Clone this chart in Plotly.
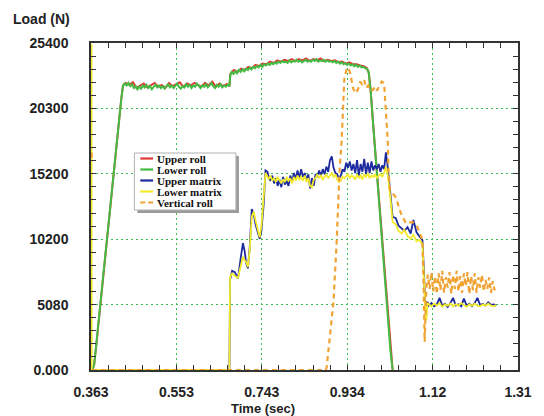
import plotly.graph_objects as go

# ---------------- data ----------------
x_tick_vals = [0.363, 0.5524, 0.7418, 0.9312, 1.1206, 1.31]
x_tick_text = ["0.363", "0.553", "0.743", "0.934", "1.12", "1.31"]
y_tick_vals = [0, 5080, 10160, 15240, 20320, 25400]
y_tick_text = ["0.000", "5080", "10200", "15200", "20300", "25400"]

series_names = ["Upper roll", "Lower roll", "Upper matrix", "Lower matrix", "Vertical roll"]

# Lower roll (green)
roll_t = [0.363, 0.367, 0.370, 0.375, 0.380, 0.385, 0.390, 0.395, 0.400, 0.405, 0.410,
          0.415, 0.420, 0.425, 0.430, 0.434,
          0.438, 0.442, 0.446, 0.450, 0.454, 0.458, 0.462, 0.466, 0.470, 0.474, 0.478,
          0.482, 0.486, 0.490, 0.494, 0.498, 0.502, 0.506, 0.510, 0.514, 0.518, 0.522,
          0.526, 0.530, 0.534, 0.538, 0.542, 0.546, 0.550, 0.554, 0.558, 0.562, 0.566,
          0.570, 0.574, 0.578, 0.582, 0.586, 0.590, 0.594, 0.598, 0.602, 0.606, 0.610,
          0.614, 0.618, 0.622, 0.626, 0.630, 0.634, 0.638, 0.642, 0.646, 0.650, 0.654,
          0.658, 0.662, 0.666, 0.670,
          0.672, 0.675,
          0.679, 0.683, 0.687, 0.691, 0.695, 0.699, 0.703, 0.707, 0.711, 0.715, 0.719,
          0.723, 0.727, 0.731, 0.735, 0.739, 0.743, 0.747, 0.751, 0.755, 0.759, 0.763,
          0.767, 0.771, 0.775, 0.779, 0.783, 0.787, 0.791, 0.795, 0.799, 0.803, 0.807,
          0.811, 0.815, 0.819, 0.823, 0.827, 0.831, 0.835, 0.839, 0.843, 0.847, 0.851,
          0.855, 0.859, 0.863, 0.867, 0.871, 0.875, 0.879, 0.883, 0.887, 0.891, 0.895,
          0.899, 0.903, 0.907, 0.911, 0.915, 0.919, 0.923, 0.927, 0.931, 0.935, 0.939,
          0.943, 0.947, 0.951, 0.955, 0.959, 0.963, 0.967, 0.971, 0.975,
          0.979, 0.983, 0.987, 0.992, 0.997, 1.002, 1.007, 1.012, 1.017, 1.022, 1.027, 1.032]
lower_roll = [0, 100, 400, 2000, 3800, 5600, 7300, 9000, 10800, 12500, 14200,
              15900, 17600, 19300, 21000, 22100,
              22250, 22100, 22300, 22050, 22200, 21900, 22050, 21800, 22000, 21850, 22100,
              21950, 22150, 21900, 22050, 21800, 22000, 22150, 21950, 22100, 21900, 22050,
              21850, 22000, 22200, 21950, 22100, 21900, 22050, 22250, 22000, 21850, 22050,
              21950, 22200, 22000, 22150, 21900, 22100, 22000, 22250, 22050, 21900, 22100,
              22000, 22200, 21950, 22100, 22300, 22050, 21900, 22150, 22000, 22200, 21950,
              22100, 22000, 22150, 22050,
              22900, 23150,
              23000, 23200, 23050, 23300, 23150, 23350, 23200, 23400, 23300, 23500, 23350,
              23550, 23450, 23600, 23500, 23700, 23550, 23750, 23650, 23800, 23700, 23850,
              23750, 23900, 23800, 23950, 23850, 24000, 23900, 23950, 23850, 24050, 23900,
              24000, 23950, 24100, 23950, 24050, 23900, 24000, 24100, 23950, 24050, 23950,
              24100, 24000, 24150, 23950, 24050, 24000, 24100, 23950, 24050, 23950, 24000,
              23900, 24000, 23850, 23950, 23800, 23900, 23750, 23850, 23700, 23800, 23650,
              23750, 23600, 23700, 23550, 23650, 23500, 23550, 23450, 23400,
              23100, 21800, 19900, 17600, 15200, 12900, 10600, 8300, 6000, 3700, 1500, 0]

# Upper roll (red)
upper_roll_t = [0.363, 0.367, 0.370, 0.375, 0.430, 0.434,
                0.440, 0.448, 0.456, 0.464, 0.472, 0.480, 0.488, 0.496, 0.504, 0.512,
                0.520, 0.528, 0.536, 0.544, 0.552, 0.560, 0.568, 0.576, 0.584, 0.592,
                0.600, 0.608, 0.616, 0.624, 0.632, 0.640, 0.648, 0.656, 0.664, 0.670,
                0.672, 0.680, 0.688, 0.696, 0.704, 0.712, 0.720, 0.728, 0.736, 0.744,
                0.752, 0.760, 0.768, 0.776, 0.784, 0.792, 0.800, 0.808, 0.816, 0.824,
                0.832, 0.840, 0.848, 0.856, 0.864, 0.872, 0.880, 0.888, 0.896, 0.904,
                0.912, 0.920, 0.928, 0.936, 0.944, 0.952, 0.960, 0.968, 0.975, 0.979,
                0.983, 0.987, 0.992, 1.032]
upper_roll = [0, 100, 400, 2000, 21000, 22100,
              22300, 22150, 22350, 21900, 22100, 22250, 21950, 22100, 22300, 22000,
              22150, 21900, 22300, 22050, 22200, 22350, 22000, 22250, 22100, 22300,
              22150, 22000, 22300, 22100, 22400, 22000, 22250, 22050, 22200, 22100,
              23000, 23300, 23150, 23400, 23300, 23550, 23450, 23700, 23600, 23800,
              23750, 23950, 23850, 24050, 23950, 24100, 24000, 24150, 24000, 24150,
              24050, 24200, 24000, 24150, 24050, 24200, 24000, 24100, 24000, 24050,
              23900, 23950, 23800, 23900, 23750, 23750, 23650, 23600, 23450, 23100,
              21800, 19900, 17600, 0]

# Upper matrix (blue) and lower matrix (yellow)
matrix_t = [0.3642, 0.3645, 0.670, 0.6714, 0.676, 0.682, 0.689, 0.695, 0.700, 0.704,
            0.707, 0.711, 0.715, 0.7195, 0.724, 0.728, 0.733, 0.737, 0.741, 0.746,
            0.750, 0.7545,
            0.757, 0.761, 0.765, 0.769, 0.773, 0.777, 0.781, 0.785, 0.789, 0.793,
            0.797, 0.801, 0.805, 0.809, 0.813, 0.817, 0.821, 0.825, 0.829, 0.833,
            0.837, 0.841, 0.845, 0.849, 0.853, 0.857, 0.861, 0.865, 0.869, 0.873,
            0.877, 0.881, 0.885, 0.889, 0.893, 0.897, 0.901, 0.905, 0.909, 0.913,
            0.917, 0.921, 0.925, 0.929, 0.933, 0.937, 0.941, 0.945, 0.949, 0.953,
            0.957, 0.961, 0.965, 0.969, 0.973, 0.977, 0.981, 0.985, 0.989, 0.993,
            0.997, 1.001, 1.005, 1.009, 1.013, 1.017, 1.021,
            1.028, 1.032, 1.039, 1.045, 1.052, 1.058, 1.065, 1.072, 1.078, 1.085,
            1.091, 1.098, 1.101, 1.104, 1.107, 1.109,
            1.112, 1.118, 1.124, 1.130, 1.136, 1.142, 1.148, 1.154, 1.160, 1.166,
            1.172, 1.178, 1.184, 1.190, 1.196, 1.202, 1.208, 1.214, 1.220, 1.226,
            1.232, 1.238, 1.244, 1.250, 1.256, 1.262]
upper_matrix = [0, 0, 0, 7000, 7700, 7600, 7100, 8700, 9850, 9200,
                8300, 7900, 9500, 12500, 12100, 11300, 10600, 10200, 10800, 12900,
                15500, 15400,
                15000, 14700, 15100, 14500, 14900, 14300, 14800, 14200, 15000, 14400,
                14700, 14300, 15100, 14600, 15300, 14800, 15500, 14900, 15600, 15000,
                15300, 14700, 15200, 14100, 14900, 14300, 15200, 15000, 15500, 15100,
                15600, 15200, 15800, 15400, 16300, 16600, 15700, 15300, 15200, 14900,
                15100, 15600, 15400, 16100, 15700, 16200, 15500, 16000, 15300, 16300,
                15100, 16000, 15400, 16400, 15200, 16100, 15300, 16200, 15500, 15900,
                15600, 16000, 15400, 15900, 15600, 16900, 15800,
                13500, 11900, 11800, 11200, 11000, 10800, 11100, 10600, 11650, 10700,
                10400, 10100, 8000, 5200, 5000, 5300,
                5000, 5200, 4950, 5100, 5600, 5000, 5150, 4900, 5200, 5600,
                5000, 5100, 4950, 5550, 5000, 5150, 4950, 5200, 5600, 5050,
                5150, 5000, 5250, 5050, 5100, 5000]
lower_matrix = [25300, 0, 0, 7250, 7500, 7300, 7150, 8200, 8800, 8500,
                8400, 8000, 9300, 11900, 12300, 11600, 10900, 10300, 11200, 13500,
                15300, 15000,
                14800, 15100, 14700, 14900, 14600, 15000, 14700, 14500, 14800, 14600,
                15000, 14700, 14900, 14500, 15000, 14700, 15100, 14800, 15000, 14700,
                15100, 14600, 14900, 14300, 14200, 14800, 14900, 15200, 14900, 15100,
                14800, 15000, 15200, 14900, 15100, 15300, 15000, 15200, 14800, 14600,
                14700, 15000, 14900, 15100, 15200, 14900, 15100, 15000, 14800, 15200,
                14900, 15100, 14800, 15200, 15000, 15300, 14900, 15100, 15000, 15200,
                14900, 15100, 15200, 15000, 15300, 15800, 15200,
                13000, 11500, 11300, 10800, 10600, 10900, 10400, 10200, 10500, 10000,
                10100, 9800, 7500, 5000, 3900, 5200,
                5100, 4950, 5150, 5000, 5200, 4900, 5100, 5000, 5150, 4950,
                5100, 5000, 5200, 5050, 4900, 5100, 5000, 5150, 5000, 4950,
                5100, 5000, 5150, 5000, 4950, 5050]

# Vertical roll (orange, dashed)
vertical_t = [0.3642, 0.3646, 0.3647, 0.3649, 0.884, 0.886, 0.892, 0.897, 0.901, 0.908,
              0.914, 0.919, 0.923, 0.925, 0.9295, 0.934, 0.938, 0.945, 0.951, 0.956,
              0.960, 0.964, 0.969, 0.973, 0.978, 0.982, 0.988, 0.993, 0.997, 1.004,
              1.008, 1.013, 1.017, 1.021, 1.023, 1.026, 1.039, 1.050, 1.061, 1.076,
              1.087, 1.098, 1.101, 1.103, 1.107,
              1.110, 1.114, 1.118, 1.122, 1.126, 1.130, 1.134, 1.138, 1.142, 1.146,
              1.150, 1.154, 1.158, 1.162, 1.166, 1.170, 1.174, 1.178, 1.182, 1.186,
              1.190, 1.194, 1.198, 1.202, 1.206, 1.210, 1.214, 1.218, 1.222, 1.226,
              1.230, 1.234, 1.238, 1.242, 1.246, 1.250, 1.254, 1.258, 1.262]
vertical_roll = [16900, 16300, None, 0, 0, 300, 2500, 4400, 5400, 10100,
                 15300, 17900, 21000, 22700, 23300, 23500, 23000, 21800, 21500, 21900,
                 22400, 22200, 22500, 21900, 22100, 21700, 21750, 22000, 21700, 22100,
                 22400, 22300, 20400, 17900, 15300, 14000, 13400, 12200, 11400, 11500,
                 11100, 10100, 6000, 2200, 6500,
                 7400, 6300, 7600, 6100, 7300, 5900, 7500, 6200, 7700, 6000,
                 7200, 6400, 7600, 5900, 7400, 6300, 7700, 6100, 7300, 6000,
                 7500, 6500, 7600, 5900, 7300, 6200, 7500, 6000, 7200, 6400,
                 7400, 6100, 7000, 6300, 7200, 6000, 6900, 6200, 6600]

series_colors = ["#e03a36", "#43bb43", "#1d2a9e", "#f2ea2a", "#f0a333"]

# ---------------- figure ----------------
W, H = 544, 416
L, R, T, B = 91, 524, 43, 370          # plot-area pixel box


def fx(p):
    return (p - L) / (R - L)


def fy(p):
    return (B - p) / (B - T)


fig = go.Figure()
fig.add_trace(go.Scatter(x=upper_roll_t, y=upper_roll, name=series_names[0], mode="lines",
                         line=dict(color=series_colors[0], width=2)))
fig.add_trace(go.Scatter(x=roll_t, y=lower_roll, name=series_names[1], mode="lines",
                         line=dict(color=series_colors[1], width=2)))
fig.add_trace(go.Scatter(x=matrix_t, y=upper_matrix, name=series_names[2], mode="lines",
                         line=dict(color=series_colors[2], width=1.8)))
fig.add_trace(go.Scatter(x=matrix_t, y=lower_matrix, name=series_names[3], mode="lines",
                         line=dict(color=series_colors[3], width=1.8)))
fig.add_trace(go.Scatter(x=vertical_t, y=vertical_roll, name=series_names[4], mode="lines",
                         connectgaps=False,
                         line=dict(color=series_colors[4], width=2.2, dash="5px,4px")))

tick_font = dict(family="Liberation Sans, Arial, sans-serif", size=14, color="#222",
                 weight="bold")
title_font = dict(family="Liberation Sans, Arial, sans-serif", size=13, color="#222",
                  weight="bold")
grid_col = "#3dbb55"

fig.update_xaxes(range=[0.363, 1.31], tickmode="array", tickvals=x_tick_vals,
                 ticktext=x_tick_text, ticks="inside", ticklen=5, tickcolor="#333",
                 showline=True, linecolor="#333", linewidth=1.5, mirror="ticks",
                 showgrid=True, gridcolor=grid_col, griddash="2px,3px", gridwidth=1.3,
                 zeroline=False, tickfont=tick_font, ticklabelstandoff=8,
                 minor=dict(tick0=0.363, dtick=(1.31 - 0.363) / 25, ticks="inside",
                            ticklen=5, tickcolor="#333", showgrid=False))
fig.update_yaxes(range=[0, 25400], tickmode="array", tickvals=y_tick_vals,
                 ticktext=y_tick_text, ticks="inside", ticklen=5, tickcolor="#333",
                 showline=True, linecolor="#333", linewidth=1.5, mirror="ticks",
                 showgrid=True, gridcolor=grid_col, griddash="2px,3px", gridwidth=1.3,
                 zeroline=False, tickfont=tick_font, ticklabelstandoff=18,
                 minor=dict(tick0=0, dtick=1016, ticks="inside", ticklen=5,
                            tickcolor="#333", showgrid=False))

# compact legend box, like the reference
box = (135, 153, 238, 210)
shapes = [
    dict(type="rect", xref="paper", yref="paper", layer="above",
         x0=fx(box[0] + 3), x1=fx(box[2] + 3), y0=fy(box[3] + 3), y1=fy(box[1] + 3),
         fillcolor="#9a9a9a", line=dict(width=0)),
    dict(type="rect", xref="paper", yref="paper", layer="above",
         x0=fx(box[0]), x1=fx(box[2]), y0=fy(box[3]), y1=fy(box[1]),
         fillcolor="white", line=dict(color="#b0b0b0", width=1)),
]
annotations = []
row_y = [158.5, 169.5, 180.5, 191.5, 202.5]
for i, name in enumerate(series_names):
    ln = dict(color=series_colors[i], width=2.2)
    if i == 4:
        ln["dash"] = "5px,3px"
    shapes.append(dict(type="line", xref="paper", yref="paper", layer="above",
                       x0=fx(141), x1=fx(154), y0=fy(row_y[i]), y1=fy(row_y[i]), line=ln))
    annotations.append(dict(text=name, xref="paper", yref="paper", x=fx(156), y=fy(row_y[i]),
                            xanchor="left", yanchor="middle", showarrow=False,
                            font=dict(family="Liberation Serif, Times New Roman, serif",
                                      size=11, color="#111", weight="bold")))

annotations.append(dict(text="Load (N)", xref="paper", yref="paper", x=fx(41), y=fy(19),
                        xanchor="center", yanchor="middle", showarrow=False,
                        font=tick_font))
annotations.append(dict(text="Time (sec)", xref="paper", yref="paper", x=fx(265), y=fy(408),
                        xanchor="center", yanchor="middle", showarrow=False,
                        font=title_font))

fig.update_layout(width=W, height=H, showlegend=False,
                  margin=dict(l=L, r=W - R, t=T, b=H - B, pad=0),
                  paper_bgcolor="white", plot_bgcolor="white",
                  shapes=shapes, annotations=annotations)

fig.write_html("out.html", config={"displayModeBar": False},
               post_script="document.body.style.margin='0';document.body.style.overflow='hidden';")
